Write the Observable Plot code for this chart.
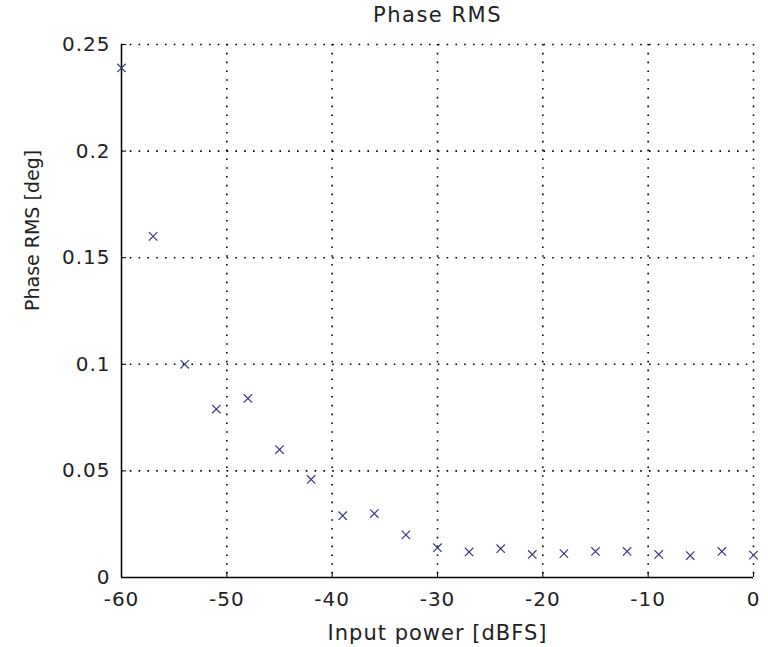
<!DOCTYPE html>
<html>
<head>
<meta charset="utf-8">
<script src="https://cdn.jsdelivr.net/npm/d3@7"></script>
<script src="https://cdn.jsdelivr.net/npm/@observablehq/plot@0.6"></script>
<style>
  html, body { margin: 0; padding: 0; background: #fff; }
  #chart svg { display: block; }
</style>
</head>
<body>
<div id="chart"></div>
<script>
const inputPower = [-60, -57, -54, -51, -48, -45, -42, -39, -36, -33, -30, -27, -24, -21, -18, -15, -12, -9, -6, -3, 0];
const phaseRms = [0.239, 0.160, 0.100, 0.079, 0.084, 0.060, 0.046, 0.029, 0.030, 0.020, 0.014, 0.012, 0.0135, 0.0108, 0.0112, 0.0122, 0.0122, 0.0108, 0.0103, 0.0122, 0.0105];
const xTicks = [-60, -50, -40, -30, -20, -10, 0];
const yTicks = [0, 0.05, 0.1, 0.15, 0.2, 0.25];
const yTickLabels = ["0", "0.05", "0.1", "0.15", "0.2", "0.25"];
const titleText = "Phase RMS";
const xLabel = "Input power [dBFS]";
const yLabel = "Phase RMS [deg]";

const data = inputPower.map((x, i) => ({x, y: phaseRms[i]}));
const font = "DejaVu Sans, sans-serif";
const txt = "#222";

const chart = Plot.plot({
  width: 768,
  height: 647,
  marginLeft: 121,
  marginRight: 15,
  marginTop: 44,
  marginBottom: 70,
  style: {fontFamily: font, background: "#fff"},
  x: {domain: [-60, 0], axis: null},
  y: {domain: [0, 0.25], axis: null},
  marks: [
    Plot.ruleX(xTicks.filter(d => d !== -60), {stroke: "#000", strokeWidth: 1.6, strokeDasharray: "1.6,7.2"}),
    Plot.ruleY(yTicks.filter(d => d !== 0), {stroke: "#000", strokeWidth: 1.6, strokeDasharray: "1.6,7.2"}),
    // inward tick marks
    Plot.ruleX(xTicks, {y1: 0, y2: 0.0025, stroke: "#000", strokeWidth: 1}),
    Plot.ruleY(yTicks, {x1: -60, x2: -59.5, stroke: "#000", strokeWidth: 1}),
    // axis lines
    Plot.ruleX([-60], {stroke: "#000", strokeWidth: 1.5}),
    Plot.ruleY([0], {stroke: "#000", strokeWidth: 1.5}),
    // data
    Plot.dot(data, {x: "x", y: "y", symbol: "times", r: 3.9, stroke: "#3b3b80", strokeWidth: 1.2}),
    // tick labels
    Plot.text(xTicks, {x: d => d, frameAnchor: "bottom", dy: 22, text: d => String(d), fontSize: 20, fill: txt, lineAnchor: "middle"}),
    Plot.text(yTicks, {y: d => d, frameAnchor: "left", dx: -11, text: (d, i) => yTickLabels[i], textAnchor: "end", fontSize: 20, fill: txt}),
    // title and labels
    Plot.text([titleText], {frameAnchor: "top", dy: -29, text: d => d, fontSize: 21, fill: txt, lineAnchor: "middle"}),
    Plot.text([xLabel], {frameAnchor: "bottom", dy: 56, text: d => d, fontSize: 21, fill: txt, lineAnchor: "middle"}),
    Plot.text([yLabel], {frameAnchor: "left", dx: -89, rotate: -90, text: d => d, fontSize: 19, fill: txt, lineAnchor: "middle"})
  ]
});
const xTickStr = new Set(xTicks.map(String));
const yTickStr = new Set(yTickLabels);
d3.select(chart).selectAll("text").each(function () {
  const t = this.textContent;
  let v = null;
  if (t === titleText) v = "1.5px";
  else if (t === xLabel) v = "1px";
  else if (t === yLabel) v = null;
  else if (xTickStr.has(t) || yTickStr.has(t)) v = "1px";
  if (v) this.setAttribute("letter-spacing", v);
});
document.getElementById("chart").appendChild(chart);
</script>
</body>
</html>
